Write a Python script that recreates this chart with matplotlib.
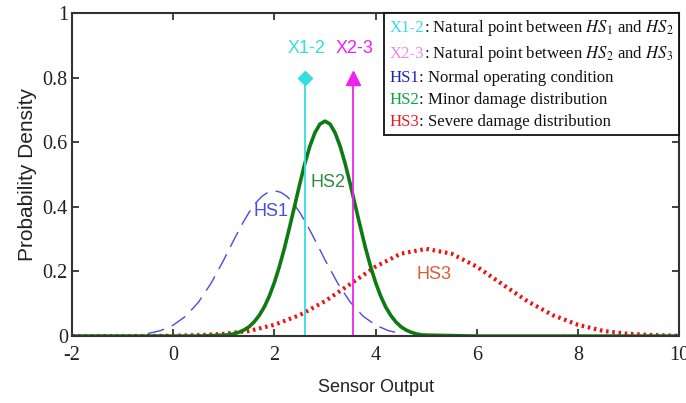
import matplotlib
matplotlib.use("Agg")
import matplotlib.pyplot as plt
from matplotlib.offsetbox import TextArea, HPacker, VPacker, AnchoredOffsetbox

plt.rcParams['mathtext.fontset'] = 'stix'
plt.rcParams['axes.unicode_minus'] = False

# curves
hs1_x = [-0.5, -0.25, 0, 0.25, 0.5, 0.75, 1.0, 1.125, 1.25, 1.375, 1.5, 1.625, 1.75, 1.875, 2.0,
         2.125, 2.25, 2.375, 2.5, 2.625, 2.75, 2.875, 3.0, 3.25, 3.5, 3.75, 4.0, 4.25, 4.5]
hs1_y = [0.008, 0.017, 0.034, 0.062, 0.105, 0.164, 0.236, 0.275, 0.313, 0.350, 0.383, 0.411, 0.432, 0.445, 0.45,
         0.445, 0.432, 0.411, 0.383, 0.350, 0.313, 0.275, 0.236, 0.164, 0.105, 0.062, 0.034, 0.017, 0.008]

hs2_x = [-2, 0, 0.5, 1.0, 1.1, 1.2, 1.3, 1.4, 1.5, 1.6, 1.7, 1.8, 1.9, 2.0,
         2.1, 2.2, 2.3, 2.4, 2.5, 2.6, 2.7, 2.8, 2.9, 3.0,
         3.1, 3.2, 3.3, 3.4, 3.5, 3.6, 3.7, 3.8, 3.9, 4.0,
         4.1, 4.2, 4.3, 4.4, 4.5, 4.6, 4.7, 4.8, 4.9, 5.0, 6, 8, 10]
hs2_y = [0, 0, 0, 0.003, 0.004, 0.007, 0.012, 0.019, 0.029, 0.044, 0.064, 0.090, 0.124, 0.166,
         0.216, 0.273, 0.337, 0.403, 0.470, 0.533, 0.587, 0.629, 0.656, 0.665,
         0.656, 0.629, 0.587, 0.533, 0.470, 0.403, 0.337, 0.273, 0.216, 0.166,
         0.124, 0.090, 0.064, 0.044, 0.029, 0.019, 0.012, 0.007, 0.004, 0.003, 0, 0, 0]

hs3_x = [-2, -1, 0, 0.5, 1.0, 1.5, 2.0, 2.5, 3.0, 3.5, 4.0, 4.5, 5.0,
         5.5, 6.0, 6.5, 7.0, 7.5, 8.0, 8.5, 9.0, 9.5, 10]
hs3_y = [0, 0, 0.001, 0.003, 0.007, 0.016, 0.035, 0.065, 0.108, 0.161, 0.215, 0.255, 0.27,
         0.255, 0.215, 0.161, 0.108, 0.065, 0.035, 0.016, 0.007, 0.003, 0.001]

# natural points between states
x12 = 2.6
x23 = 3.55
marker_top = 0.8

x_ticks = [-2, 0, 2, 4, 6, 8, 10]
y_ticks = [0, 0.2, 0.4, 0.6, 0.8, 1.0]
y_ticklabels = ['0', '0.2', '0.4', '0.6', '0.8', '1']

c_cyan = '#33dede'
c_mag = '#f020f0'
c_blue = '#4a4ae0'
c_green = '#0e7a12'
c_red = '#f01010'

fig = plt.figure(figsize=(6.86, 4.03), dpi=100)
ax = fig.add_axes([0.105, 0.166, 0.885, 0.802])

ax.plot(hs1_x, hs1_y, color=c_blue, lw=1.0, linestyle=(0, (12, 6)))
ax.plot(hs3_x, hs3_y, color=c_red, lw=3.0, linestyle=(0, (0.6, 0.9)))
ax.plot(hs2_x, hs2_y, color=c_green, lw=2.6)

ax.plot([x12, x12], [0, marker_top], color=c_cyan, lw=1.3)
ax.plot([x12], [marker_top], marker='D', color=c_cyan, ms=7)
ax.plot([x23, x23], [0, marker_top], color=c_mag, lw=1.3)
ax.plot([x23], [marker_top], marker='^', color=c_mag, ms=10)

lbl = dict(fontsize=13, ha='center', va='center', family='Liberation Sans')
ax.text(x12 + 0.04, 0.89, 'X1-2', color=c_cyan, **lbl)
ax.text(x23 + 0.04, 0.89, 'X2-3', color=c_mag, **lbl)
ax.text(1.94, 0.385, 'HS1', color=c_blue, **lbl)
ax.text(3.05, 0.475, 'HS2', color='#2e8b3e', **lbl)
ax.text(5.16, 0.19, 'HS3', color='#e05a3a', **lbl)

ax.set_xlim(-2, 10)
ax.set_ylim(0, 1)
ax.set_xticks(x_ticks)
ax.set_yticks(y_ticks)
ax.set_yticklabels(y_ticklabels)
ax.tick_params(direction='in', top=True, right=True, length=5, width=1.2,
               labelsize=14.5, colors='#222222')
ax.tick_params(axis='x', pad=7)
ax.tick_params(axis='y', pad=3)
for lab in ax.get_xticklabels() + ax.get_yticklabels():
    lab.set_family('Liberation Serif')
for sp in ax.spines.values():
    sp.set_linewidth(1.5)
    sp.set_color('#333333')

ax.set_xlabel('Sensor Output', fontsize=13, family='Liberation Sans', color='#222222',
              labelpad=10)
ax.set_ylabel('Probability Density', fontsize=15, family='Liberation Sans', color='#222222',
              labelpad=4)

# legend box with coloured keys
rows = [
    ('X1-2', c_cyan, r': Natural point between $HS_1$ and $HS_2$'),
    ('X2-3', '#ee88ee', r': Natural point between $HS_2$ and $HS_3$'),
    ('HS1', '#2020c0', ': Normal operating condition'),
    ('HS2', '#10a040', ': Minor damage distribution'),
    ('HS3', '#e02020', ': Severe damage distribution'),
]
lines = []
for key, col, rest in rows:
    a = TextArea(key, textprops=dict(color=col, fontsize=12.1, family='Liberation Serif'))
    b = TextArea(rest, textprops=dict(color='#111111', fontsize=12.1, family='Liberation Serif'))
    lines.append(HPacker(children=[a, b], pad=0, sep=0))
box = VPacker(children=lines, pad=0, sep=4.2, align='left')
anch = AnchoredOffsetbox(loc='upper right', child=box, pad=0.4, borderpad=0,
                         frameon=True, bbox_to_anchor=(1.0, 1.0),
                         bbox_transform=ax.transAxes)
anch.patch.set_linewidth(1.3)
anch.patch.set_edgecolor('#111111')
ax.add_artist(anch)

fig.savefig('out.png', dpi=100)
